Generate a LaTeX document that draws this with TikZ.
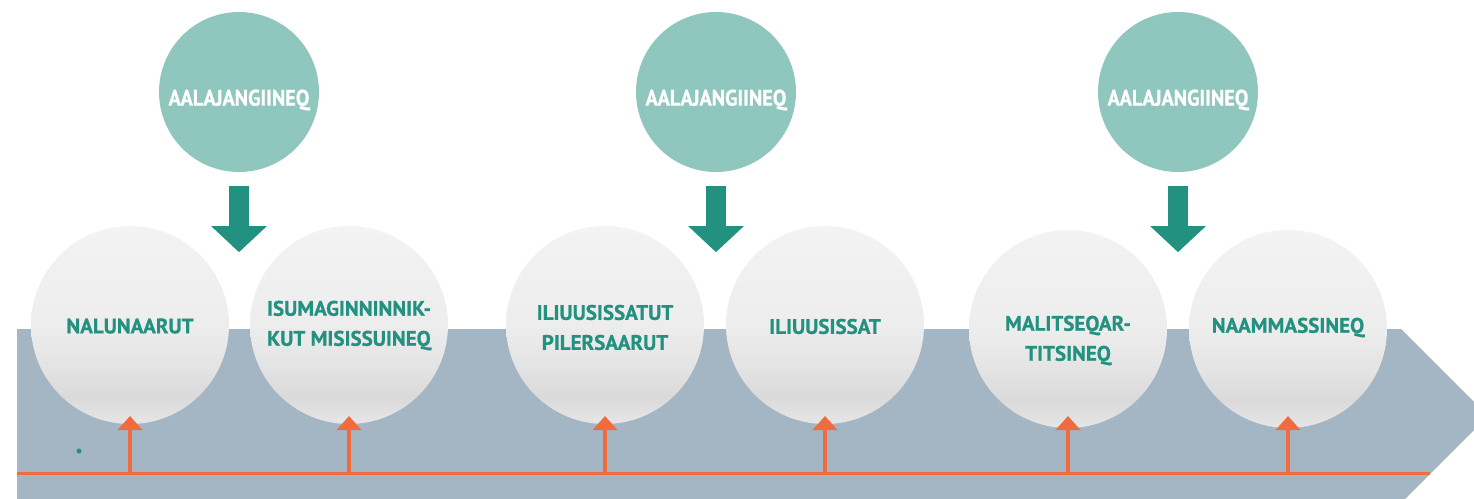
\documentclass[tikz,border=0pt]{standalone}
\usepackage{fontspec}
\newfontfamily\stagefont{PT Sans}[BoldFeatures={FakeBold=0.8}]
\newfontfamily\decisionfont{PT Sans}[FakeStretch=0.9, BoldFeatures={FakeBold=0.8}]
\usetikzlibrary{arrows.meta}
\definecolor{bandgray}{RGB}{164,181,195}
\definecolor{tealdark}{RGB}{34,145,128}
\definecolor{teallight}{RGB}{143,198,190}
\definecolor{signalorange}{RGB}{240,108,62}
\definecolor{shadetop}{RGB}{243,243,243}
\definecolor{shademid}{RGB}{237,237,237}
\definecolor{shadelow}{RGB}{228,228,228}
\definecolor{shadedark}{RGB}{218,218,218}
\definecolor{shadebottom}{RGB}{230,230,230}
\pgfdeclareverticalshading{stageshade}{100bp}{color(0bp)=(shadebottom); color(25bp)=(shadebottom);
  color(32bp)=(shadedark); color(40bp)=(shadelow); color(50bp)=(shademid); color(75bp)=(shadetop); color(100bp)=(shadetop)}

\begin{document}
\begin{tikzpicture}[x=1pt, y=-1pt,
    stage/.style={circle, minimum size=198pt, inner sep=0pt, shading=stageshade},
    stagetext/.style={font=\stagefont\bfseries\fontsize{21}{30}\selectfont, text=tealdark, align=center},
    decision/.style={circle, minimum size=160pt, inner sep=0pt, fill=teallight},
    decisiontext/.style={font=\decisionfont\bfseries\fontsize{22.5}{26}\selectfont, text=white},
    uparrow/.style={draw=signalorange, line width=4.5pt, -{Triangle[width=24pt,length=14pt]}},
    downarrow/.style={draw=tealdark, line width=20pt, -{Triangle[width=54pt,length=26pt]}}]
    \clip (0,0) rectangle (1474,498);
    \fill [bandgray] (17,329) -- (1401,329) -- (1488,416) -- (1400,504) -- (17,504) -- cycle;
    \coordinate (base west) at (17,473);
    \coordinate (base east) at (1430,473);
    \coordinate (tiprow) at (0,416);
    \draw [signalorange, line width=3pt] (base west) -- (base east);
    \fill [tealdark] (79,451) circle [radius=2.5pt];
    \foreach \i/\x/\y/\ty/\txt in {1/130/325/326/NALUNAARUT,
            2/349/325/325.5/{ISUMAGINNINNIK-\\KUT MISISSUINEQ},
            3/605/325/327.5/{ILIUUSISSATUT\\PILERSAARUT},
            4/825/325/326.5/ILIUUSISSAT,
            5/1068/329/340.5/{MALITSEQAR-\\TITSINEQ},
            6/1288/329/327.5/NAAMMASSINEQ}
    {
        \node [stage] (s\i) at (\x,\y) {};
        \node [stagetext] (t\i) at (\x,\ty) {\txt};
        \draw [uparrow] (s\i |- base west) -- (s\i |- tiprow);
    }
    \foreach \j/\x in {1/239, 2/716, 3/1178}
    {
        \node [decision] (d\j) at (\x,92) {};
        \node [decisiontext] (dt\j) at (\x,100) {AALAJANGIINEQ};
        \draw [downarrow] ([yshift=-14pt]d\j.south) -- ([yshift=-80pt]d\j.south);
    }
\end{tikzpicture}
\end{document}
